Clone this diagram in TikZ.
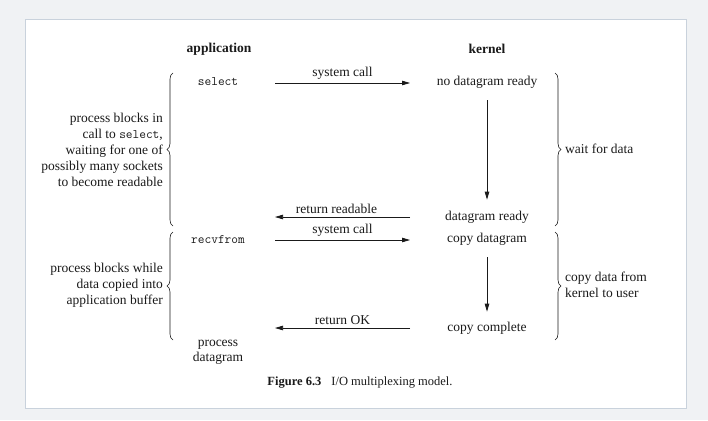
\documentclass[tikz,border=0pt]{standalone}
\usepackage{fontspec}
\setmainfont{Liberation Serif}
\usetikzlibrary{arrows.meta,decorations.pathreplacing}
\definecolor{pagebg}{HTML}{F0F2F4}
\definecolor{panelborder}{HTML}{C9D2DC}
\definecolor{ink}{HTML}{1A1A1A}
\tikzset{
  txt/.style={inner sep=0pt, text=ink, font=\fontsize{13.5}{16}\selectfont},
  head/.style={txt, font=\fontsize{13.5}{16}\selectfont\bfseries},
  code/.style={inner sep=0pt, text=ink, font=\fontsize{13}{14}\ttfamily},
  arr/.style={draw=ink, line width=0.75pt, -{Triangle[length=8pt,width=4.5pt]}},
  hlab/.style={txt, above=3pt, midway},
  brc/.style={draw=ink, line width=0.6pt, decorate, decoration={brace, amplitude=6pt}},
}
\begin{document}
\begin{tikzpicture}[x=1pt, y=-1pt]
\useasboundingbox (0,0) rectangle (708,420);
\fill[pagebg] (0,0) rectangle (708,420);
\draw[panelborder, fill=white, line width=1pt] (25,20) rectangle (686,408);

% headers
\node[head] (app) at (219,49) {application};
\node[head] (ker) at (487,49) {kernel};

% application column
\node[code] (select) at (218,82) {select};
\node[code] (recv) at (218,240) {recvfrom};
\node[txt, align=center, font=\fontsize{13.5}{15}\selectfont] (proc) at (218,352) {process\\datagram};

% kernel column
\node[txt] (nodr) at (487,82) {no datagram ready};
\node[txt] (dready) at (487,217) {datagram ready};
\node[txt] (copyd) at (487,239) {copy datagram};
\node[txt] (copyc) at (487,328) {copy complete};

% horizontal arrows
\coordinate (a1s) at (275,83);  \coordinate (a1e) at (410,83);
\coordinate (a2s) at (410,217); \coordinate (a2e) at (275,217);
\coordinate (a3s) at (275,240); \coordinate (a3e) at (410,240);
\coordinate (a4s) at (410,328); \coordinate (a4e) at (275,328);
\draw[arr] (a1s) -- (a1e) node[hlab] (l1) {system call};
\draw[arr] (a2s) -- (a2e) node[hlab, xshift=-6pt] (l2) {return readable};
\draw[arr] (a3s) -- (a3e) node[hlab] (l3) {system call};
\draw[arr] (a4s) -- (a4e) node[hlab] (l4) {return OK};

% vertical arrows
\draw[arr, shorten <=12pt, shorten >=11pt] (nodr) -- (dready);
\draw[arr, shorten <=12pt, shorten >=10pt] (copyd) -- (copyc);

% braces
\coordinate (lb1b) at (173,226); \coordinate (lb1t) at (173,73);
\coordinate (lb2b) at (173,340); \coordinate (lb2t) at (173,232);
\coordinate (rb1t) at (555,73);  \coordinate (rb1b) at (555,226);
\coordinate (rb2t) at (555,232); \coordinate (rb2b) at (555,340);
\draw[brc] (lb1b) -- (lb1t);
\draw[brc] (lb2b) -- (lb2t);
\draw[brc] (rb1t) -- (rb1b);
\draw[brc] (rb2t) -- (rb2b);

% side texts
\node[txt, align=right, anchor=east] (lt1) at (163,150)
  {process blocks in\\call to {\fontsize{13}{14}\ttfamily select},\\waiting for one of\\possibly many sockets\\to become readable};
\node[txt, align=right, anchor=east] (lt2) at (163,285)
  {process blocks while\\data copied into\\application buffer};
\node[txt, anchor=west] (rt1) at (565,149) {wait for data};
\node[txt, align=left, anchor=west] (rt2) at (565,285) {copy data from\\kernel to user};

% caption
\node[inner sep=0pt, text=ink, font=\fontsize{12.5}{14}\selectfont] (cap) at (360,383)
  {\textbf{Figure 6.3}\hspace{0.8em}I/O multiplexing model.};
\end{tikzpicture}
\end{document}
